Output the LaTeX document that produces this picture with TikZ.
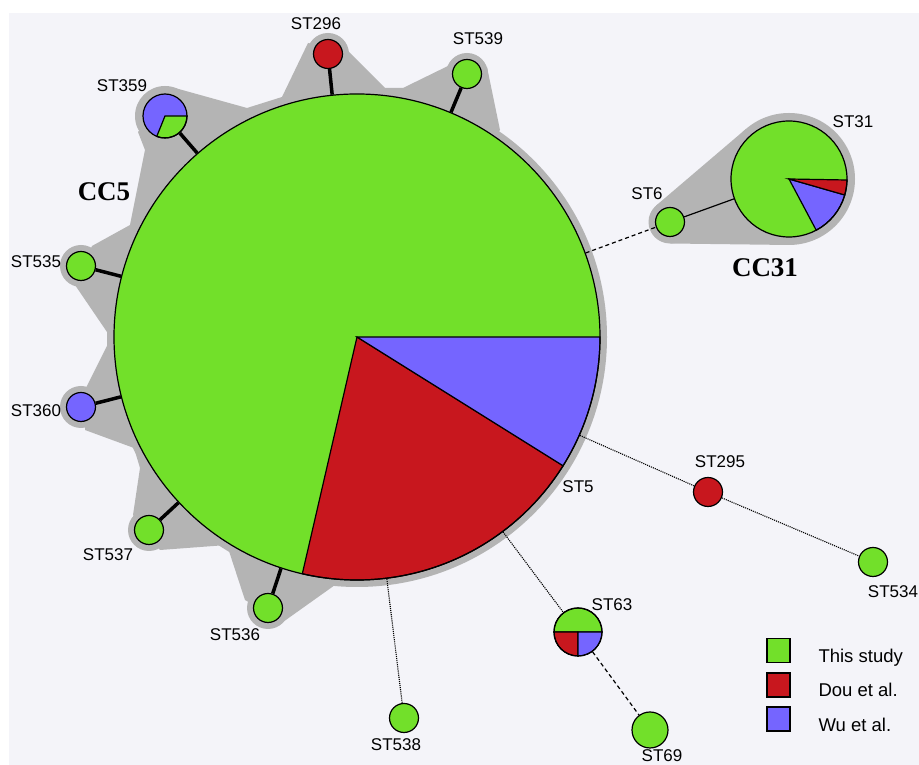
\documentclass[tikz,border=0pt]{standalone}
\usepackage{fontspec}
\setmainfont{Liberation Sans}
\newfontfamily\ccfont{Liberation Serif}
\usetikzlibrary{calc}
\definecolor{stgreen}{RGB}{114,224,42}
\definecolor{stred}{RGB}{200,23,30}
\definecolor{stblue}{RGB}{117,101,255}
\definecolor{hullgray}{RGB}{180,180,180}
\definecolor{bggray}{RGB}{244,244,249}

\begin{document}
\begin{tikzpicture}[x=1pt,y=1pt,font=\fontsize{17}{17}\selectfont,
	stnode/.style={shape=circle, draw=black, line width=1.2pt, inner sep=0pt, minimum size=29pt},
	slice/.style={draw=black, line width=1.2pt},
	ccedge/.style={line width=3.5pt},
	dotlink/.style={densely dotted, line width=1.1pt},
	dashlink/.style={dash pattern=on 4pt off 3pt, line width=1.2pt},
	cclabel/.style={font=\ccfont\bfseries\fontsize{27}{27}\selectfont},
	legbox/.style={shape=rectangle, draw=black, line width=1.5pt, minimum width=23pt, minimum height=24pt, inner sep=0pt},
	legtext/.style={anchor=base west, font=\fontsize{18.5}{18.5}\selectfont}
	]
	%canvas
	\useasboundingbox (0,0) rectangle (919,765);
	\fill[white] (0,0) rectangle (919,765);
	\fill[bggray] (9,0) rectangle (919,752);

	%CC5 hull-----------------------------------------------
	\fill[hullgray] (175,677) -- (247,657) -- (282,668) -- (308,722) -- (347,715) -- (385,677) -- (403,677)
		-- (450,700) -- (487,698) -- (500,635) -- (357,428) -- (335,180) -- (283,143) -- (245,165) -- (227,220)
		-- (160,215) -- (133,250) -- (140,297) -- (134,317) -- (85,335) -- (85,375) -- (107,419) -- (107,433)
		-- (75,480) -- (92,519) -- (130,540) -- (145,615) -- (138,633) -- cycle; %star shape
	\fill[hullgray] (357,428) circle (250); %ST5 halo
	\foreach \x/\y in {328/711, 467/691, 81/499, 81/358, 149/235, 268/157}
		\fill[hullgray] (\x,\y) circle (21); %satellite halos
	\fill[hullgray] (165,649) circle (30); %ST359 halo

	%CC31 hull----------------------------------------------
	\fill[hullgray] ($(670,543)+(130.5:21.5)$) -- ($(789,586)+(130.5:66)$) -- ($(789,586)+(-90.7:66)$) -- ($(670,543)+(-90.7:21.5)$) -- cycle;
	\fill[hullgray] (670,543) circle (21.5); %ST6 halo
	\fill[hullgray] (789,586) circle (66); %ST31 halo

	%pie slices---------------------------------------------
	\fill[stgreen] (357,428) circle (243); %ST5
	\filldraw[slice, fill=stred] (357,428) -- +(-103:243) arc[start angle=-103, end angle=-32, radius=243] -- cycle;
	\filldraw[slice, fill=stblue] (357,428) -- +(-32:243) arc[start angle=-32, end angle=0, radius=243] -- cycle;
	\fill[stblue] (165,649) circle (22); %ST359
	\filldraw[slice, fill=stgreen] (165,649) -- +(-112:22) arc[start angle=-112, end angle=0, radius=22] -- cycle;
	\fill[stgreen] (789,586) circle (58); %ST31
	\filldraw[slice, fill=stblue] (789,586) -- +(-62:58) arc[start angle=-62, end angle=-16, radius=58] -- cycle;
	\filldraw[slice, fill=stred] (789,586) -- +(-16:58) arc[start angle=-16, end angle=-1, radius=58] -- cycle;
	\filldraw[slice, fill=stgreen] (578,133) -- +(0:24) arc[start angle=0, end angle=180, radius=24] -- cycle; %ST63
	\filldraw[slice, fill=stred] (578,133) -- +(180:24) arc[start angle=180, end angle=270, radius=24] -- cycle;
	\filldraw[slice, fill=stblue] (578,133) -- +(270:24) arc[start angle=270, end angle=360, radius=24] -- cycle;

	%nodes--------------------------------------------------
	\node[stnode, minimum size=486pt] (st5) at (357,428) {};
	\node[stnode, fill=stred] (st296) at (328,711) {};
	\node[stnode, fill=stgreen] (st539) at (467,691) {};
	\node[stnode, minimum size=44pt] (st359) at (165,649) {};
	\node[stnode, fill=stgreen] (st535) at (81,499) {};
	\node[stnode, fill=stblue] (st360) at (81,358) {};
	\node[stnode, fill=stgreen] (st537) at (149,235) {};
	\node[stnode, fill=stgreen] (st536) at (268,157) {};
	\node[stnode, fill=stgreen] (st538) at (404,47) {};
	\node[stnode, minimum size=48pt] (st63) at (578,133) {};
	\node[stnode, fill=stgreen, minimum size=36pt] (st69) at (650,35) {};
	\node[stnode, fill=stred] (st295) at (708,273) {};
	\node[stnode, fill=stgreen] (st534) at (873,203) {};
	\node[stnode, fill=stgreen] (st6) at (670,543) {};
	\node[stnode, minimum size=116pt] (st31) at (789,586) {};

	%links--------------------------------------------------
	\foreach \s in {st296,st539,st359,st535,st360,st537,st536}
		\draw[ccedge] (\s) -- (st5); %CC5 single locus variants
	\draw[dashlink] (st5) -- (st6);
	\draw[line width=1.2pt] (st6) -- (st31);
	\draw[dotlink] (st5) -- (st295);
	\draw[dotlink] (st295) -- (st534);
	\draw[dotlink] (st5) -- (st63);
	\draw[dashlink] (st63) -- (st69);
	\draw[dotlink] (st5) -- (st538);

	%labels-------------------------------------------------
	\node (l296) at (316,741) {ST296};
	\node (l539) at (478,726) {ST539};
	\node (l359) at (122,679) {ST359};
	\node (l535) at (36,503) {ST535};
	\node (l360) at (36,354) {ST360};
	\node (l537) at (108,210) {ST537};
	\node (l536) at (235,130) {ST536};
	\node (l538) at (396,20) {ST538};
	\node (l5) at (578,278) {ST5};
	\node (l295) at (720,303) {ST295};
	\node (l534) at (893,173) {ST534};
	\node (l63) at (612,160) {ST63};
	\node (l69) at (662,9) {ST69};
	\node (l6) at (647,571) {ST6};
	\node (l31) at (853,643) {ST31};
	\node[cclabel] (cc5) at (104,573) {CC5};
	\node[cclabel] (cc31) at (765,497) {CC31};

	%legend-------------------------------------------------
	\node[legbox, fill=stgreen] (kgreen) at (778.5,114.5) {};
	\node[legbox, fill=stred] (kred) at (778.5,80) {};
	\node[legbox, fill=stblue] (kblue) at (778.5,46) {};
	\node[legtext] (tgreen) at (815,102) {This study};
	\node[legtext] (tred) at (815,68) {Dou et al.};
	\node[legtext] (tblue) at (815,33) {Wu et al.};
\end{tikzpicture}
\end{document}
